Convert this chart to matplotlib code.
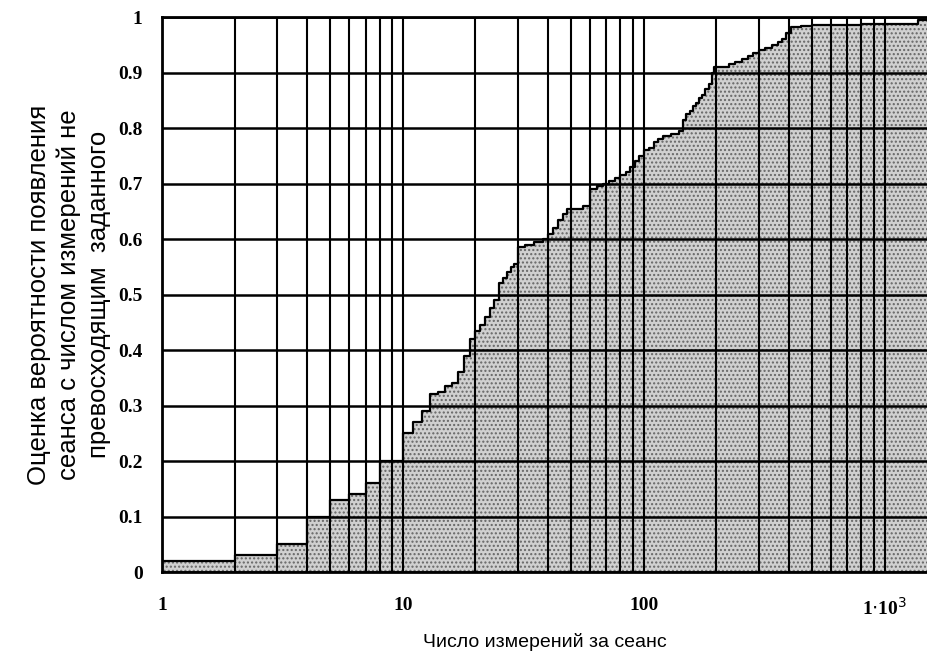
import matplotlib
matplotlib.use('Agg')
import matplotlib.pyplot as plt
from matplotlib.ticker import LogLocator, NullFormatter, FixedLocator
import numpy as np

# ступенчатая оценка функции распределения
step_x = [1, 2, 3, 4, 5, 6, 7, 8, 9, 10,
          11, 12, 13, 14, 15, 16, 17, 18, 19, 20,
          21, 22, 23, 24, 25, 26, 27, 28, 29, 30,
          32, 35, 38, 40, 42, 44, 46, 48, 52, 56,
          60, 64, 68, 72, 76, 80, 84, 88, 92, 96,
          100, 105, 110, 115, 120, 130, 140, 145, 150, 155,
          160, 165, 170, 175, 180, 186, 192, 196, 210, 225,
          240, 255, 270, 285, 300, 320, 340, 360, 375, 390,
          410, 450, 500, 600, 800, 1370]
step_y = [0.02, 0.03, 0.05, 0.10, 0.13, 0.14, 0.16, 0.20, 0.20, 0.25,
          0.27, 0.29, 0.32, 0.325, 0.335, 0.34, 0.36, 0.39, 0.42, 0.435,
          0.445, 0.46, 0.475, 0.49, 0.52, 0.53, 0.54, 0.55, 0.555, 0.585,
          0.59, 0.595, 0.60, 0.61, 0.62, 0.635, 0.645, 0.655, 0.655, 0.66,
          0.69, 0.695, 0.70, 0.705, 0.71, 0.715, 0.72, 0.73, 0.74, 0.75,
          0.76, 0.765, 0.775, 0.78, 0.785, 0.79, 0.795, 0.815, 0.825, 0.83,
          0.84, 0.845, 0.855, 0.86, 0.87, 0.88, 0.90, 0.91, 0.91, 0.915,
          0.92, 0.925, 0.93, 0.935, 0.94, 0.945, 0.95, 0.955, 0.96, 0.972,
          0.982, 0.984, 0.985, 0.986, 0.988, 0.995]

x_max = 1500
y_ticks = [0, 0.1, 0.2, 0.3, 0.4, 0.5, 0.6, 0.7, 0.8, 0.9, 1]
y_tick_labels = ['0', '0.1', '0.2', '0.3', '0.4', '0.5', '0.6', '0.7', '0.8', '0.9', '1']
x_ticks = [1, 10, 100, 1000]
x_tick_labels = ['1', '10', '100', r'1$\cdot$10$^3$']

xs = np.array(step_x + [x_max], dtype=float)
ys = np.array(step_y + [step_y[-1]])

fig = plt.figure(figsize=(9.27, 6.59), dpi=100)
ax = fig.add_axes([0.1748, 0.132, 0.8252, 0.842])

ax.fill_between(xs, ys, step='post', facecolor='#d0d0d0', edgecolor='#666666',
                hatch='....', linewidth=0, zorder=1)
ax.step(xs, ys, where='post', color='black', lw=1.6, zorder=3)

ax.set_xscale('log')
ax.set_xlim(1, x_max)
ax.set_ylim(0, 1)

ax.xaxis.set_major_locator(FixedLocator(x_ticks))
ax.xaxis.set_minor_locator(LogLocator(base=10, subs=range(2, 10), numticks=20))
ax.xaxis.set_minor_formatter(NullFormatter())
ax.set_xticklabels(x_tick_labels)
ax.set_yticks(y_ticks)
ax.set_yticklabels(y_tick_labels)

ax.set_axisbelow(False)
ax.grid(True, which='both', axis='x', color='black', lw=1.5, zorder=4)
ax.grid(True, which='major', axis='y', color='black', lw=1.8, zorder=4)

for s in ['left', 'bottom', 'top']:
    ax.spines[s].set_linewidth(2)
ax.spines['right'].set_visible(False)

ax.tick_params(which='both', length=0)
ax.tick_params(axis='x', pad=18)
ax.tick_params(axis='y', pad=14)
for lab in ax.get_xticklabels() + ax.get_yticklabels():
    lab.set_fontfamily('Liberation Serif')
    lab.set_fontweight('bold')
    lab.set_fontsize(14)

ax.set_xlabel('Число измерений за сеанс', fontfamily='Liberation Sans',
              fontsize=14, labelpad=10)
ax.set_ylabel('Оценка вероятности появления\nсеанса с числом измерений не\nпревосходящим  заданного',
              fontfamily='Liberation Sans', fontsize=18.5, linespacing=1.3, labelpad=5)

fig.savefig('out.png', dpi=100)
